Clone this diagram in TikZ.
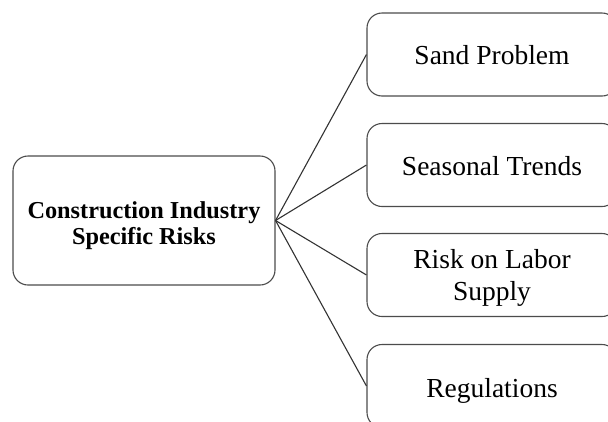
\documentclass[tikz,border=0pt]{standalone}
\usepackage{fontspec}
\setmainfont{Liberation Serif}
% set a centred block of lines a little below the box centre
\newcommand{\lowered}[2]{\raisebox{-#1}[\height][\depth]{\begin{tabular}{@{}c@{}}#2\end{tabular}}}
\begin{document}
\begin{tikzpicture}[x=1pt,y=1pt,
  box/.style={draw=black!70, line width=1.1pt, rounded corners=15pt,
    inner sep=0pt, align=center, text=black},
  mainbox/.style={box, minimum width=262pt, minimum height=129pt,
    font=\fontsize{24.3}{26}\selectfont\bfseries},
  riskbox/.style={box, minimum width=250pt, minimum height=83pt,
    font=\fontsize{27.5}{31.5}\selectfont},
  link/.style={draw=black!80, line width=1.1pt}]
  % canvas
  \clip (0,0) rectangle (608,-421);
  \fill[white] (0,0) rectangle (608,-421);
  % central box
  \node[mainbox] (main) at (144,-220.5) {\lowered{6pt}{Construction Industry\\Specific Risks}};
  % risk boxes (running past the right edge)
  \node[riskbox] (sand) at (492,-54.5) {\lowered{4pt}{Sand Problem}};
  \node[riskbox] (season) at (492,-165) {\lowered{4pt}{Seasonal Trends}};
  \node[riskbox] (labor) at (492,-275) {\lowered{3pt}{Risk on Labor\\Supply}};
  \node[riskbox] (reg) at (492,-386) {\lowered{5pt}{Regulations}};
  % connectors
  \foreach \t in {sand,season,labor,reg}
    \draw[link] (main.east) -- (\t.west);
\end{tikzpicture}
\end{document}
